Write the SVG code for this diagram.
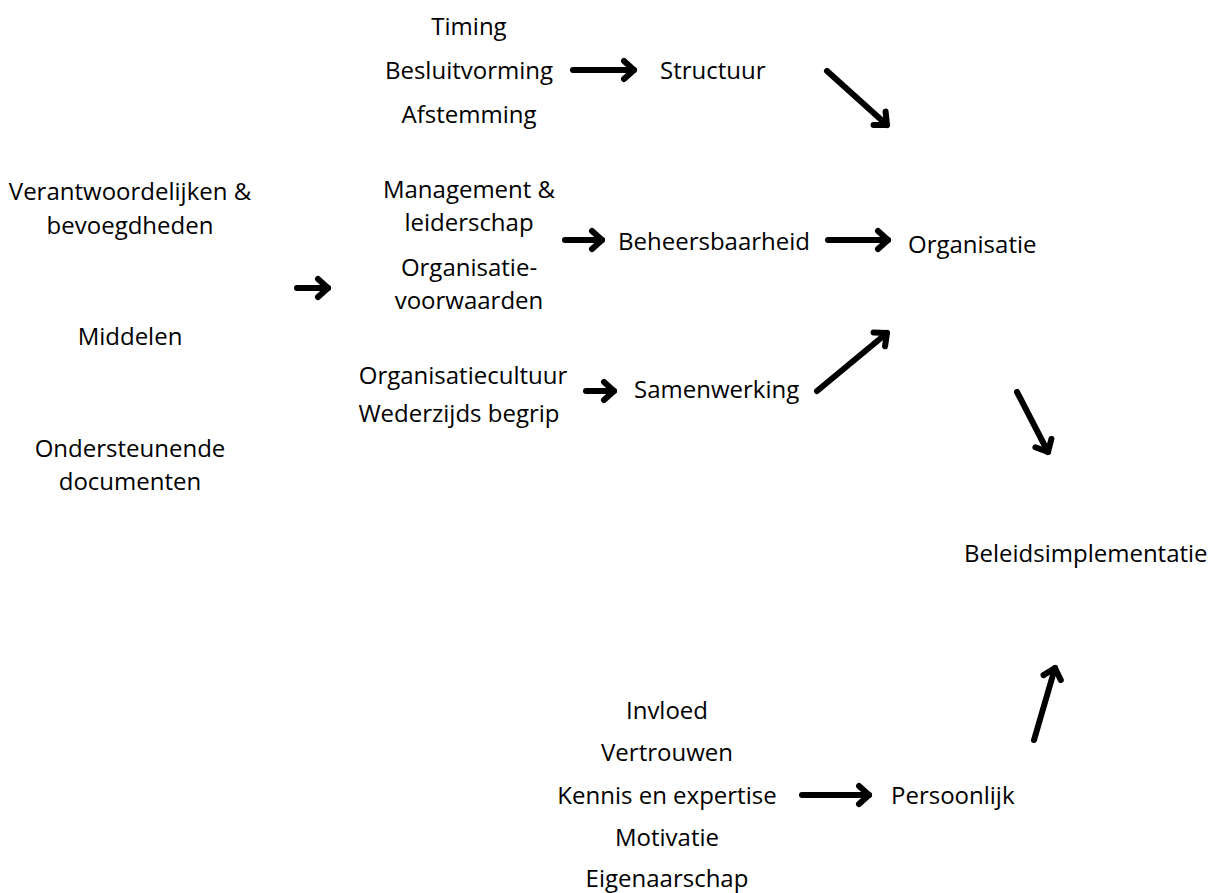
<svg xmlns="http://www.w3.org/2000/svg" width="1213" height="893" viewBox="0 0 1213 893">
  <style>
    .t { font-family: "Open Sans", "Noto Sans", sans-serif; font-size: 24px; fill: #000; }
    .c { text-anchor: middle; }
    .a { fill: none; stroke: #000; stroke-width: 6; stroke-linecap: round; stroke-linejoin: round; }
  </style>
  <defs>
    <!-- open chevron arrowhead shared by every connector -->
    <marker id="head" viewBox="-16 -14 20 28" markerWidth="20" markerHeight="28" refX="0" refY="0" orient="auto" markerUnits="userSpaceOnUse">
      <path d="M-10,-9 L0,0 L-10,9" fill="none" stroke="#000" stroke-width="6" stroke-linecap="round" stroke-linejoin="round"/>
    </marker>
  </defs>
  <rect width="1213" height="893" fill="#fff"/>

  <g id="structuur-factoren">
    <text class="t c" x="469" y="35">Timing</text>
    <text class="t c" x="469" y="79">Besluitvorming</text>
    <text class="t c" x="469" y="123">Afstemming</text>
  </g>
  <g id="structuur"><text class="t" x="660" y="79">Structuur</text></g>

  <g id="bronnen">
    <text class="t c" x="130" y="200">Verantwoordelijken &amp;</text>
    <text class="t c" x="130" y="234">bevoegdheden</text>
    <text class="t c" x="130" y="345">Middelen</text>
    <text class="t c" x="130" y="457">Ondersteunende</text>
    <text class="t c" x="130" y="490">documenten</text>
  </g>

  <g id="beheersbaarheid-factoren">
    <text class="t c" x="469" y="198">Management &amp;</text>
    <text class="t c" x="469" y="231">leiderschap</text>
    <text class="t c" x="469" y="276">Organisatie-</text>
    <text class="t c" x="469" y="309">voorwaarden</text>
  </g>
  <g id="beheersbaarheid"><text class="t" x="618" y="250">Beheersbaarheid</text></g>
  <g id="organisatie"><text class="t" x="908" y="253">Organisatie</text></g>

  <g id="samenwerking-factoren">
    <text class="t c" x="463" y="384">Organisatiecultuur</text>
    <text class="t c" x="459" y="422">Wederzijds begrip</text>
  </g>
  <g id="samenwerking"><text class="t" x="634" y="398">Samenwerking</text></g>

  <g id="beleidsimplementatie"><text class="t" x="964" y="562">Beleidsimplementatie</text></g>

  <g id="persoonlijk-factoren">
    <text class="t c" x="667" y="719">Invloed</text>
    <text class="t c" x="667" y="761">Vertrouwen</text>
    <text class="t c" x="667" y="804">Kennis en expertise</text>
    <text class="t c" x="667" y="846">Motivatie</text>
    <text class="t c" x="667" y="887">Eigenaarschap</text>
  </g>
  <g id="persoonlijk"><text class="t" x="891" y="804">Persoonlijk</text></g>

  <g id="connectors">
    <line class="a" x1="573" y1="70" x2="634" y2="70" marker-end="url(#head)"/>
    <line class="a" x1="827" y1="71" x2="887" y2="125" marker-end="url(#head)"/>
    <line class="a" x1="297" y1="288" x2="328" y2="288" marker-end="url(#head)"/>
    <line class="a" x1="565" y1="240" x2="602" y2="240" marker-end="url(#head)"/>
    <line class="a" x1="828" y1="240" x2="888" y2="240" marker-end="url(#head)"/>
    <line class="a" x1="586" y1="391" x2="614" y2="391" marker-end="url(#head)"/>
    <line class="a" x1="817" y1="391" x2="887" y2="333" marker-end="url(#head)"/>
    <line class="a" x1="1017" y1="392" x2="1048" y2="452" marker-end="url(#head)"/>
    <line class="a" x1="1034" y1="740" x2="1055" y2="668" marker-end="url(#head)"/>
    <line class="a" x1="802" y1="795" x2="869" y2="795" marker-end="url(#head)"/>
  </g>
</svg>
